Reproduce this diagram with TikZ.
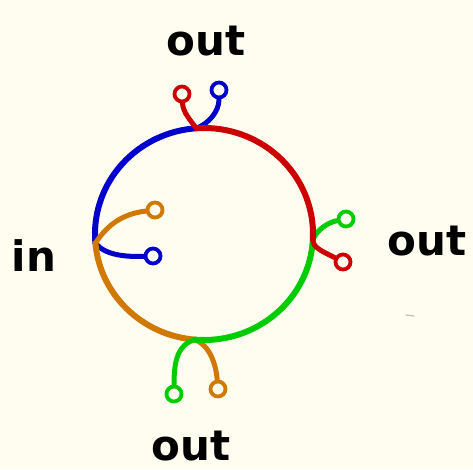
\documentclass[tikz,border=0pt]{standalone}
\usepackage{fontspec}
\setmainfont{DejaVu Sans}
\definecolor{bg}{RGB}{255,253,240}
\definecolor{wblue}{RGB}{0,0,204}
\definecolor{wred}{RGB}{204,0,0}
\definecolor{wgreen}{RGB}{0,204,0}
\definecolor{worange}{RGB}{208,120,0}
\begin{document}
\begin{tikzpicture}[x=1pt,y=-1pt,line cap=round,line join=round,
  wire/.style={line width=6pt},
  stub/.style={line width=5pt},
  term/.style={circle,draw,line width=3.8pt,minimum size=15pt,inner sep=0pt},
  lbl/.style={font=\fontsize{42}{42}\selectfont\bfseries,anchor=base,inner sep=0pt,text depth=0pt}]
\fill[bg] (0,0) rectangle (473,469);
\useasboundingbox (0,0) rectangle (473,469);
\coordinate (C) at (204,234);
\path (C) ++(266:109 and 106) coordinate (jT);
\path (C) ++(3:109 and 106) coordinate (jR);
\path (C) ++(95:109 and 106) coordinate (jB);
\path (C) ++(175:109 and 106) coordinate (jL);
% terminals
\node[term,wblue] (tB1) at (219,90) {};
\node[term,wred] (tR1) at (182,94) {};
\node[term,wred] (tR2) at (343,262) {};
\node[term,wgreen] (tG2) at (346,219) {};
\node[term,wgreen] (tG3) at (174,394) {};
\node[term,worange] (tO3) at (218,389) {};
\node[term,worange] (tO4) at (155,210) {};
\node[term,wblue] (tB4) at (153,256) {};
% blue
\draw[wire,wblue] (jL) arc[start angle=175,end angle=266,x radius=109,y radius=106];
\draw[stub,wblue] (jT) .. controls (208,124) and (219,112) .. (tB1);
\draw[stub,wblue] (jL) .. controls (105,255) and (125,257) .. (tB4);
% orange
\draw[wire,worange] (jB) arc[start angle=95,end angle=175,x radius=109,y radius=106];
\draw[stub,worange] (jB) .. controls (210,345) and (216,365) .. (tO3);
\draw[stub,worange] (jL) .. controls (105,228) and (120,214) .. (tO4);
% green
\draw[wire,wgreen] (jR) arc[start angle=3,end angle=95,x radius=109,y radius=106];
\draw[stub,wgreen] (jB) .. controls (178,345) and (174,360) .. (tG3);
\draw[stub,wgreen] (jR) .. controls (318,228) and (330,222) .. (tG2);
% red
\draw[wire,wred] (jT) arc[start angle=266,end angle=363,x radius=109,y radius=106];
\draw[stub,wred] (jT) .. controls (190,120) and (183,112) .. (tR1);
\draw[stub,wred] (jR) .. controls (313,248) and (322,251) .. (tR2);
% labels
\node[lbl] (oT) at (206,55) {out};
\node[lbl] (oR) at (427,255) {out};
\node[lbl] (oB) at (191,460) {out};
\node[lbl] (lin) at (34,271) {in};
\draw[gray!50,line width=1.2pt] (406,315) -- (414,316);
\end{tikzpicture}
\end{document}
